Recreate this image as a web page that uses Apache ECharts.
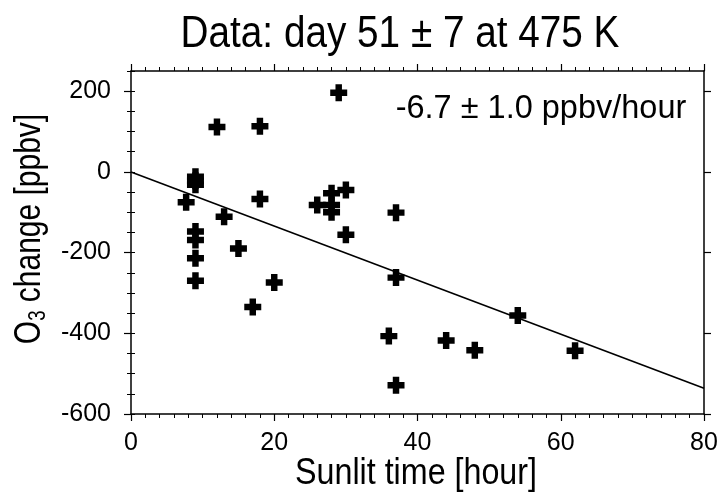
<!DOCTYPE html>
<html>
<head>
<meta charset="utf-8">
<script src="https://cdn.jsdelivr.net/npm/echarts@6/dist/echarts.min.js"></script>
<style>
  html,body{margin:0;padding:0;background:#fff;}
  #chart{width:721px;height:494px;}
</style>
</head>
<body>
<div id="chart"></div>
<script>
// sunlit time [hour] and O3 change [ppbv] of each measurement
const sunlitHours = [7.7, 9, 9, 9, 9, 9, 9, 9, 12, 13, 15, 17, 18, 18, 20, 26, 28, 28, 28, 29, 30, 30, 36, 37, 37, 37, 44, 48, 54, 62]
const o3Change = [-75, -12, -22, -32, -148, -169, -214, -270, 111, -111, -190, -335, 113, -67, -274, -82, -53, -82, -100, 196, -45, -156, -407, -101, -262, -529, -418, -442, -356, -443]
// fitted line, -6.7 ppbv/hour
const fitHours = [0, 80]
const fitValues = [0, -536]
// tick marks
const yMajorTicks = [-600, -400, -200, 0, 200]
const yMinorTicks = [-600, -550, -500, -450, -400, -350, -300, -250, -200, -150, -100, -50, 0, 50, 100, 150, 200, 250]

const FONT = '"Liberation Sans", Arial, Helvetica, sans-serif'
const PLUS = 'path://M3.1,0 H6.9 V3.1 H10 V6.9 H6.9 V10 H3.1 V6.9 H0 V3.1 H3.1 Z'

const points = sunlitHours.map((h, i) => [h, o3Change[i]])
const fitLine = fitHours.map((h, i) => [h, fitValues[i]])

const myChart = echarts.init(document.getElementById('chart'))

const xBase = {
  type: 'value', min: 0, max: 80, interval: 20,
  axisLine: { show: true, onZero: false, lineStyle: { color: '#000', width: 1.5 } },
  axisTick: { show: true, inside: false, length: 7, lineStyle: { color: '#000', width: 1.2 } },
  minorTick: { show: true, splitNumber: 10, length: 4, lineStyle: { color: '#000', width: 1 } },
  splitLine: { show: false }
}
const yMajor = {
  type: 'value', min: -600, max: 250,
  axisLine: { show: true, onZero: false, lineStyle: { color: '#000', width: 1.5 } },
  axisTick: { show: true, inside: false, length: 7, customValues: yMajorTicks, lineStyle: { color: '#000', width: 1.2 } },
  splitLine: { show: false }
}
const yMinor = {
  type: 'value', min: -600, max: 250,
  axisLine: { show: false },
  axisTick: { show: true, inside: false, length: 4, customValues: yMinorTicks, lineStyle: { color: '#000', width: 1 } },
  axisLabel: { show: false },
  splitLine: { show: false }
}

// texts drawn by hand, squeezed a bit to look like the narrow Helvetica of the original
const txt = (text, x, y, size, sx) => ({
  type: 'text', x: x, y: y, scaleX: sx, silent: true,
  style: { text: text, fontFamily: FONT, fontSize: size, fill: '#000', align: 'center', verticalAlign: 'middle' }
})

const option = {
  backgroundColor: '#fff',
  animation: false,
  grid: { left: 131, right: 17, top: 71, bottom: 80, outerBoundsMode: 'none' },
  xAxis: [
    Object.assign({}, xBase, {
      position: 'bottom',
      axisLabel: { show: true, margin: 17, fontFamily: FONT, fontSize: 25, color: '#000' }
    }),
    Object.assign({}, xBase, { position: 'top', axisLabel: { show: false } })
  ],
  yAxis: [
    Object.assign({}, yMajor, {
      position: 'left',
      axisLabel: { show: true, customValues: yMajorTicks, margin: 20, fontFamily: FONT, fontSize: 25, color: '#000' }
    }),
    Object.assign({}, yMinor, { position: 'left' }),
    Object.assign({}, yMajor, { position: 'right', axisLabel: { show: false } }),
    Object.assign({}, yMinor, { position: 'right' })
  ],
  graphic: [
    txt('Data: day 51 ± 7 at 475 K', 400, 35, 44, 0.88),
    txt('-6.7 ± 1.0 ppbv/hour', 541, 109, 33.5, 0.97),
    txt('Sunlit time [hour]', 416, 474, 37.5, 0.86),
    {
      type: 'text', x: 30, y: 229, rotation: Math.PI / 2, scaleX: 0.81, silent: true,
      style: {
        text: '{n|O}{s|3}{n| change [ppbv]}',
        align: 'center', verticalAlign: 'middle',
        rich: {
          n: { fontFamily: FONT, fontSize: 37, fill: '#000' },
          s: { fontFamily: FONT, fontSize: 23, fill: '#000', padding: [17, 0, 0, 0] }
        },
        fill: '#000'
      }
    }
  ],
  series: [
    {
      type: 'line', data: fitLine, xAxisIndex: 0, yAxisIndex: 0,
      showSymbol: false, silent: true,
      lineStyle: { color: '#000', width: 1.6 }
    },
    {
      type: 'scatter', data: points, xAxisIndex: 0, yAxisIndex: 0,
      symbol: PLUS, symbolSize: 17,
      itemStyle: { color: '#000', opacity: 1 }
    }
  ]
}
myChart.setOption(option)
</script>
</body>
</html>
